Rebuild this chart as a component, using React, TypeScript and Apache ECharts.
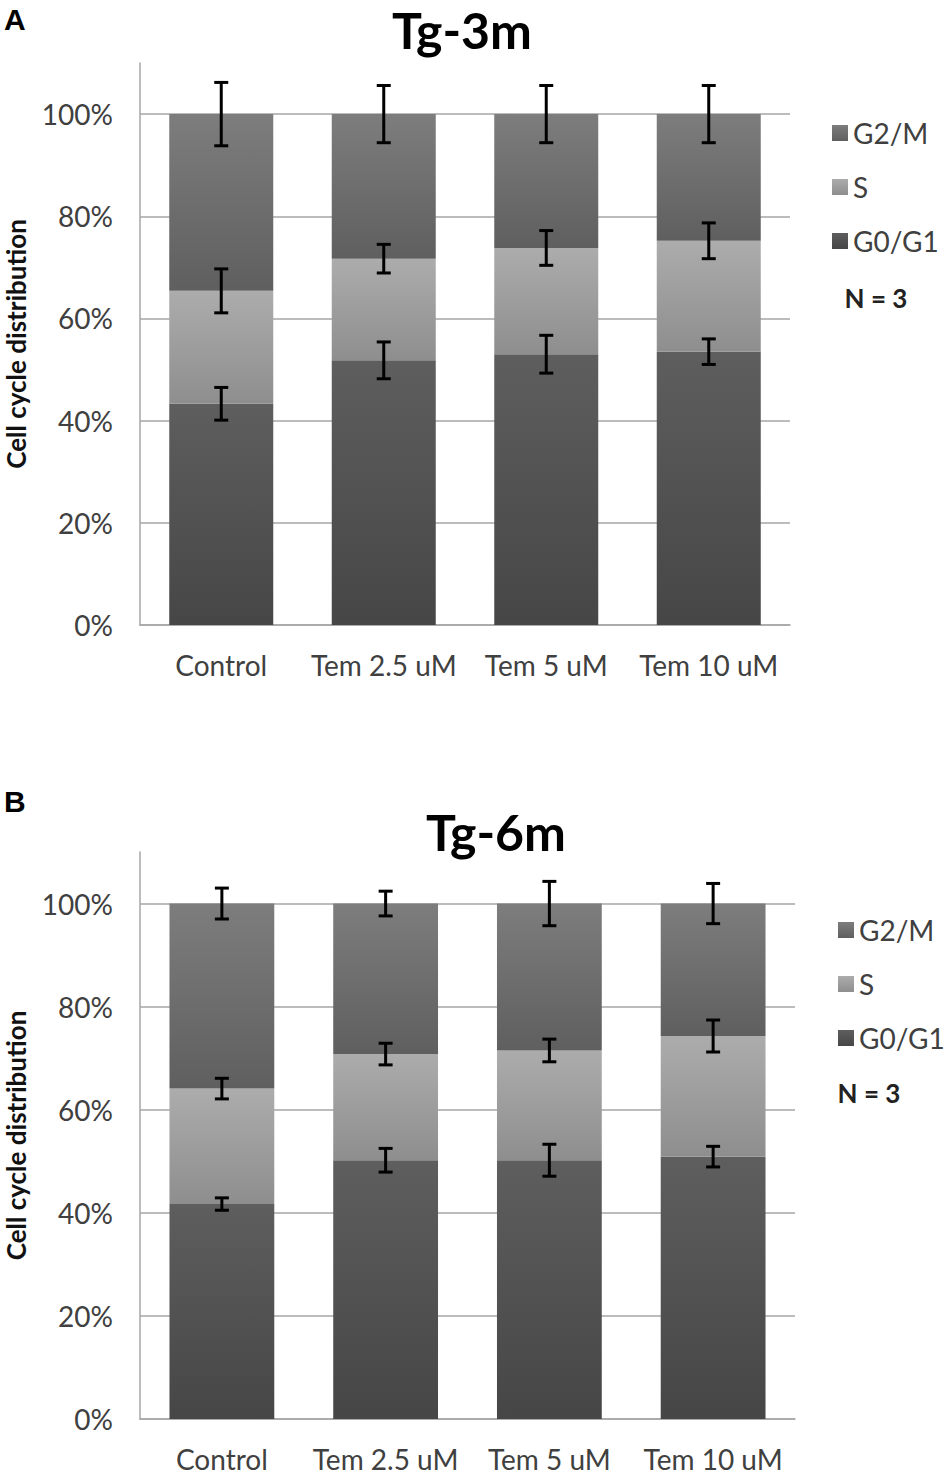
import React, { useEffect, useRef } from "react";
import * as echarts from "echarts";

const categories = ["Control", "Tem 2.5 uM", "Tem 5 uM", "Tem 10 uM"];
const yTicks = [0, 20, 40, 60, 80, 100];

// Panel A (Tg-3m)
const a_G0G1 = [43.3, 51.8, 53.0, 53.5];
const a_S = [22.1, 19.9, 20.8, 21.7];
const a_G2M = [34.6, 28.3, 26.2, 24.8];
const a_errG0G1 = [3.2, 3.6, 3.7, 2.5];
const a_errS = [4.3, 2.8, 3.4, 3.5];
const a_errG2M = [6.2, 5.6, 5.6, 5.6];

// Panel B (Tg-6m)
const b_G0G1 = [41.7, 50.2, 50.2, 50.9];
const b_S = [22.4, 20.6, 21.3, 23.4];
const b_G2M = [35.9, 29.2, 28.5, 25.7];
const b_errG0G1 = [1.2, 2.3, 3.1, 2.0];
const b_errS = [2.0, 2.1, 2.2, 3.1];
const b_errG2M = [3.0, 2.4, 4.3, 3.9];

const FONT = "Lato";

function grad(top: string, bottom: string) {
  return new echarts.graphic.LinearGradient(0, 0, 0, 1, [
    { offset: 0, color: top },
    { offset: 1, color: bottom },
  ]);
}

const colG2M = () => grad("#7d7d7d", "#5f5f5f");
const colS = () => grad("#acacac", "#8e8e8e");
const colG0 = () => grad("#5e5e5e", "#464646");

function errData(g0: number[], s: number[], eg0: number[], es: number[], eg2: number[]) {
  const out: number[][] = [];
  for (let i = 0; i < g0.length; i++) {
    out.push([i, g0[i], eg0[i]]);
    out.push([i, g0[i] + s[i], es[i]]);
    out.push([i, 100, eg2[i]]);
  }
  return out;
}

function renderErr(params: any, api: any) {
  const x = api.value(0);
  const c = api.value(1);
  const e = api.value(2);
  const hi = api.coord([x, c + e]);
  const lo = api.coord([x, c - e]);
  const w = 7;
  const style = { stroke: "#000", lineWidth: 3 };
  return {
    type: "group",
    children: [
      { type: "line", shape: { x1: hi[0], y1: hi[1], x2: lo[0], y2: lo[1] }, style },
      { type: "line", shape: { x1: hi[0] - w, y1: hi[1], x2: hi[0] + w, y2: hi[1] }, style },
      { type: "line", shape: { x1: lo[0] - w, y1: lo[1], x2: lo[0] + w, y2: lo[1] }, style },
    ],
  };
}

function xAxis(gridIndex: number) {
  return {
    type: "category",
    gridIndex,
    data: categories,
    axisLine: { show: true, lineStyle: { color: "#a6a6a6", width: 1.5 } },
    axisTick: { show: false },
    axisLabel: { color: "#404040", fontSize: 28, fontFamily: FONT, margin: 26, interval: 0, hideOverlap: false },
  };
}

function yAxis(gridIndex: number) {
  return {
    type: "value",
    gridIndex,
    min: 0,
    max: 110,
    interval: 20,
    name: "Cell cycle distribution",
    nameLocation: "middle",
    nameRotate: 90,
    nameGap: 111,
    nameTextStyle: { color: "#111", fontSize: 26, fontWeight: "bold", fontFamily: FONT },
    axisLine: { show: true, lineStyle: { color: "#a6a6a6", width: 1.5 } },
    axisTick: { show: false },
    axisLabel: {
      color: "#404040",
      fontSize: 28,
      fontFamily: FONT,
      margin: 27,
      showMaxLabel: false,
      formatter: (v: number) => (yTicks.indexOf(v) >= 0 ? v + "%" : ""),
    },
    splitLine: { show: true, showMaxLine: false, lineStyle: { color: "#a6a6a6", width: 1.5 } },
  };
}

function barSeries(name: string, data: number[], idx: number, color: any) {
  return {
    type: "bar",
    name,
    data,
    xAxisIndex: idx,
    yAxisIndex: idx,
    stack: "s" + idx,
    barWidth: "64%",
    itemStyle: { color },
  };
}

function legend(left: number, top: number) {
  return {
    orient: "vertical",
    left,
    top,
    data: ["G2/M", "S", "G0/G1"],
    icon: "rect",
    itemWidth: 16,
    itemHeight: 16,
    itemGap: 26,
    selectedMode: false,
    textStyle: { color: "#404040", fontSize: 28, fontFamily: FONT, lineHeight: 28 },
  };
}

export default function App() {
  const ref = useRef<HTMLDivElement>(null);
  useEffect(() => {
    document.body.style.margin = "0";
    const chart = echarts.init(ref.current!, null, { renderer: "svg" });
    const option: any = {
      animation: false,
      backgroundColor: "#fff",
      grid: [
        { left: 140, top: 63, width: 650, height: 562, containLabel: false, outerBoundsMode: "none" },
        { left: 140, top: 852, width: 655, height: 567, containLabel: false, outerBoundsMode: "none" },
      ],
      xAxis: [xAxis(0), xAxis(1)],
      yAxis: [yAxis(0), yAxis(1)],
      legend: [legend(827, 114), legend(833, 911)],
      series: [
        barSeries("G0/G1", a_G0G1, 0, colG0()),
        barSeries("S", a_S, 0, colS()),
        barSeries("G2/M", a_G2M, 0, colG2M()),
        {
          type: "custom",
          xAxisIndex: 0,
          yAxisIndex: 0,
          renderItem: renderErr,
          data: errData(a_G0G1, a_S, a_errG0G1, a_errS, a_errG2M),
          z: 10,
        },
        barSeries("G0/G1", b_G0G1, 1, colG0()),
        barSeries("S", b_S, 1, colS()),
        barSeries("G2/M", b_G2M, 1, colG2M()),
        {
          type: "custom",
          xAxisIndex: 1,
          yAxisIndex: 1,
          renderItem: renderErr,
          data: errData(b_G0G1, b_S, b_errG0G1, b_errS, b_errG2M),
          z: 10,
        },
      ],
      graphic: [
        { type: "text", left: 4, top: 4, style: { text: "A", fontSize: 30, fontWeight: "bold", fontFamily: "Liberation Sans", fill: "#000" } },
        { type: "text", left: 4, top: 786, style: { text: "B", fontSize: 30, fontWeight: "bold", fontFamily: "Liberation Sans", fill: "#000" } },
        { type: "text", x: 462, y: 30, style: { text: "Tg-3m", fontSize: 50, lineHeight: 52, fontWeight: "bold", fontFamily: FONT, fill: "#000", align: "center", verticalAlign: "middle" } },
        { type: "text", x: 496, y: 832, style: { text: "Tg-6m", fontSize: 50, lineHeight: 52, fontWeight: "bold", fontFamily: FONT, fill: "#000", align: "center", verticalAlign: "middle" } },
        { type: "text", x: 876, y: 298, style: { text: "N = 3", fontSize: 26, fontWeight: "bold", fontFamily: FONT, fill: "#222", align: "center", verticalAlign: "middle" } },
        { type: "text", x: 869, y: 1093, style: { text: "N = 3", fontSize: 26, fontWeight: "bold", fontFamily: FONT, fill: "#222", align: "center", verticalAlign: "middle" } },
      ],
    };
    chart.setOption(option);
    return () => chart.dispose();
  }, []);
  return <div ref={ref} style={{ width: 950, height: 1476 }} />;
}
